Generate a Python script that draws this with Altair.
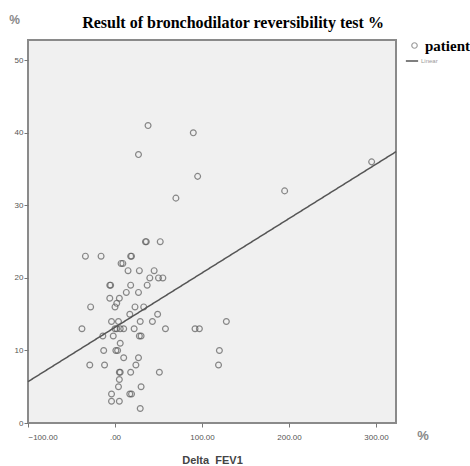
import altair as alt
import pandas as pd

# Scatter data: Delta FEV1 (x) vs reversibility % (y)
delta_fev1 = [38, 90, 27, 95, 70, 195, 295,
              35, 36, 52,
              -34, -16, 18, 19,
              7, 9,
              15, 28, 45,
              40, 50, 55,
              -6, -5, 18, 37,
              13, 27,
              -6, 5,
              2,
              -28, 0, 23, 33,
              17, 49,
              -4, 4, 29, 43, 128,
              -38, 0, 2, 6, 10, 22, 58, 92, 97,
              -14, -2, 28, 30,
              6,
              -13, 1, 3, 120,
              10, 27,
              24, -29, -12, 119,
              5, 6, 18, 51,
              5,
              4, 30,
              -4, 17, 19,
              -4, 5,
              29]
reversibility = [41, 40, 37, 34, 31, 32, 36,
                 25, 25, 25,
                 23, 23, 23, 23,
                 22, 22,
                 21, 21, 21,
                 20, 20, 20,
                 19, 19, 19, 19,
                 18, 18,
                 17.2, 17.2,
                 16.5,
                 16, 16, 16, 16,
                 15, 15,
                 14, 14, 14, 14, 14,
                 13, 13, 13, 13, 13, 13, 13, 13, 13,
                 12, 12, 12, 12,
                 11,
                 10, 10, 10, 10,
                 9, 9,
                 8, 8, 8, 8,
                 7, 7, 7, 7,
                 6,
                 5, 5,
                 4, 4, 4,
                 3, 3,
                 2]

# Fitted linear line endpoints
fit_x = [-100, 323]
fit_y = [5.7, 37.4]

x_ticks = [-100, 0, 100, 200, 300]
y_ticks = [0, 10, 20, 30, 40, 50]

pts = pd.DataFrame({"x": delta_fev1, "y": reversibility, "series": "patient"})
fit = pd.DataFrame({"x": fit_x, "y": fit_y, "fit": "Linear"})
unit = pd.DataFrame({"label": ["%"]})

xscale = alt.Scale(domain=[-100, 323], nice=False, zero=False)
yscale = alt.Scale(domain=[0, 52.8], nice=False, zero=False)

xaxis = alt.Axis(
    values=x_ticks, grid=False, domain=False,
    labelExpr="datum.value == 0 ? '.00' : format(datum.value, '.2f')",
    labelFont="Liberation Sans", labelFontSize=8, labelColor="#555",
    tickSize=4, tickColor="#777", labelPadding=6,
    title="Delta\u00a0 FEV1", titleFont="Liberation Sans", titleFontSize=11,
    titleFontWeight="bold", titleColor="#444",
    titleBaseline="alphabetic", titleY=40,
)
yaxis = alt.Axis(
    values=y_ticks, grid=False, domain=False,
    labelFont="Liberation Sans", labelFontSize=8, labelColor="#555",
    tickSize=4, tickColor="#777", labelPadding=1,
    title="%", titleAngle=0, titleX=-14, titleY=-17,
    titleAlign="center", titleBaseline="alphabetic",
    titleFont="Liberation Sans", titleFontSize=12, titleFontWeight="bold",
    titleColor="#888",
)

points = alt.Chart(pts).mark_point(
    shape="circle", filled=False, size=34, strokeWidth=1.2, color="#5a5a5a"
).encode(
    x=alt.X("x:Q", scale=xscale, axis=xaxis),
    y=alt.Y("y:Q", scale=yscale, axis=yaxis),
    shape=alt.Shape(
        "series:N",
        scale=alt.Scale(domain=["patient"], range=["circle"]),
        legend=alt.Legend(
            title=None, orient="none", legendX=379, legendY=-2, padding=0,
            labelFont="Liberation Serif", labelFontSize=15,
            labelFontWeight="bold", labelColor="#000", labelOffset=3,
            labelLimit=80,
            symbolFillColor="transparent", symbolStrokeColor="#777",
            symbolStrokeWidth=1.2, symbolSize=30,
        ),
    ),
)

line = alt.Chart(fit).mark_line(color="#555", strokeWidth=1.5).encode(
    x="x:Q",
    y="y:Q",
    strokeDash=alt.StrokeDash(
        "fit:N",
        scale=alt.Scale(domain=["Linear"], range=[[1, 0]]),
        legend=alt.Legend(
            title=None, orient="none", legendX=377, legendY=14, padding=0,
            labelFont="Liberation Sans", labelFontSize=6, labelColor="#999",
            symbolType="stroke", symbolStrokeColor="#555",
            symbolStrokeWidth=1.5, symbolSize=150, labelOffset=2,
        ),
    ),
)

pct = alt.Chart(unit).mark_text(
    font="Liberation Sans", fontSize=13, fontWeight="bold", color="#888",
    align="center", baseline="alphabetic",
).encode(x=alt.value(395), y=alt.value(400), text="label:N")

chart = alt.layer(points, line, pct).properties(
    width=368,
    height=383,
    title=alt.TitleParams(
        "Result of bronchodilator reversibility test %",
        font="Liberation Serif", fontSize=16, fontWeight="bold",
        color="#000", anchor="middle", dx=21, offset=10, dy=28,
    ),
    autosize=alt.AutoSizeParams(type="none"),
    padding={"left": 28, "top": 40, "right": 74, "bottom": 43},
).configure_view(
    fill="#f0f0f0", stroke="#8a8a8a", strokeWidth=2
).configure_legend(
    orient="none"
)

chart.save("out.html", embed_options={"renderer": "svg", "actions": False})
